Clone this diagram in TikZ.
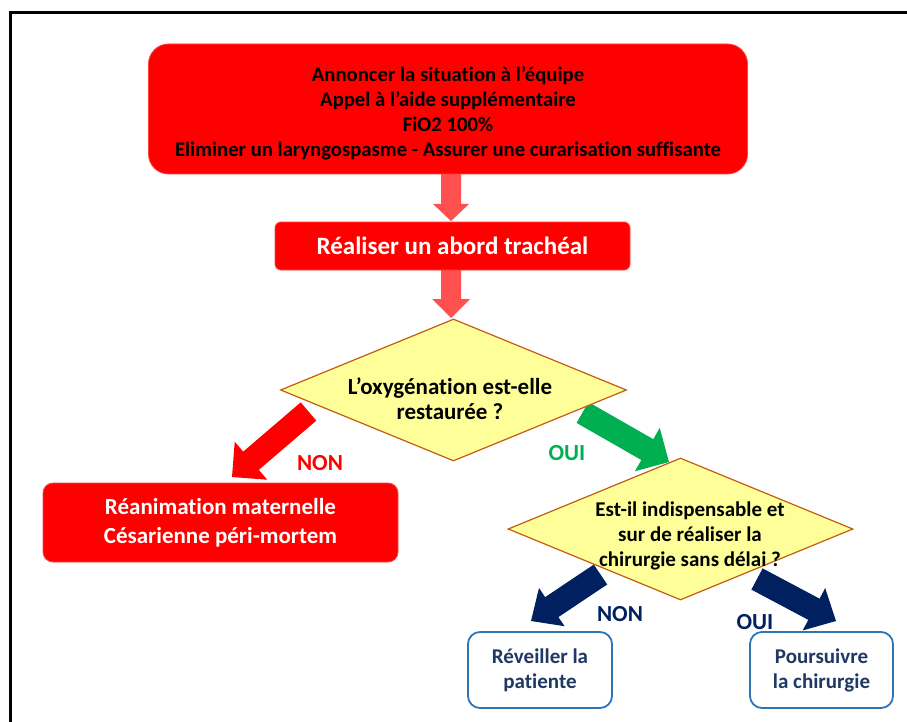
\documentclass[tikz,border=0pt]{standalone}
\usepackage{fontspec}
\setmainfont{Carlito}[Ligatures={NoCommon}]
\usetikzlibrary{calc,shapes.geometric,backgrounds}

\definecolor{alertred}{HTML}{FF0000}
\definecolor{flowred}{HTML}{FF5050}
\definecolor{qfill}{HTML}{FFFF99}
\definecolor{qborder}{HTML}{C55A11}
\definecolor{okgreen}{HTML}{00B050}
\definecolor{navy}{HTML}{002060}
\definecolor{boxblue}{HTML}{2E75B6}
\definecolor{boxtext}{HTML}{1F3864}

% block arrow: #1 colour, #2 start, #3 tip, #4 shaft half-width, #5 head half-width, #6 head length
\newcommand\blockarrow[6]{%
  \path (#2) coordinate (ba-s) (#3) coordinate (ba-t);
  \path ($(ba-t)!#6!(ba-s)$) coordinate (ba-h);
  \fill[#1] ($(ba-s)!#4!90:(ba-t)$) -- ($(ba-h)!#4!90:(ba-t)$)
    -- ($(ba-h)!#5!90:(ba-t)$) -- (ba-t) -- ($(ba-h)!#5!-90:(ba-t)$)
    -- ($(ba-h)!#4!-90:(ba-t)$) -- ($(ba-s)!#4!-90:(ba-t)$) -- cycle;
}

\tikzset{
  redbox/.style={fill=alertred, draw=alertred!75!white, line width=0.8pt,
    align=center, inner sep=0pt},
  decision/.style={diamond, fill=qfill, draw=qborder, line width=1.2pt,
    inner sep=0pt},
  qtext/.style={align=center, font=\bfseries\fontsize{23}{25}\selectfont},
  endbox/.style={fill=white, draw=boxblue, line width=1.8pt, rounded corners=12pt,
    align=center, text=boxtext, minimum width=144pt, minimum height=76pt,
    font=\bfseries\fontsize{21}{25}\selectfont},
  answer/.style={font=\bfseries\fontsize{23}{25}\selectfont},
}

\begin{document}
\begin{tikzpicture}[x=1pt,y=-1pt]
\useasboundingbox (0,0) rectangle (907,722);

% page frame
\draw[line width=3pt] (10,722) -- (10,13) -- (907,13);

% first actions
\node[redbox, rounded corners=20pt, minimum width=599pt, minimum height=130pt] (act) at (448,109) {};
\node[align=center, font=\bfseries\fontsize{20.7}{25}\selectfont] (act-t) at (448,113)
  {Annoncer la situation à l’équipe\\Appel à l’aide supplémentaire\\FiO2 100\%\\Eliminer un laryngospasme - Assurer une curarisation suffisante};

\node[redbox, rounded corners=6pt, minimum width=355pt, minimum height=48pt,
  text=white, font=\bfseries\fontsize{25}{30}\selectfont] (trach) at (452.5,246)
  {Réaliser un abord trachéal};

% first question
\node[decision, minimum width=346pt, minimum height=142pt] (q1) at (453.5,390) {};
\node[qtext] (q1t) at (450,399) {L’oxygénation est-elle\\restaurée ?};

\node[redbox, rounded corners=10pt, minimum width=355pt, minimum height=79pt,
  text=white, font=\bfseries\fontsize{23}{29}\selectfont] (reanim) at (220.5,522.5)
  {Réanimation maternelle\\Césarienne péri-mortem};

% second question
\node[decision, minimum width=345pt, minimum height=142pt] (q2) at (680.5,529) {};
\node[qtext, font=\bfseries\fontsize{21}{25}\selectfont] (q2t) at (690,536)
  {Est-il indispensable et\\sur de réaliser la\\chirurgie sans délai ?};

\node[endbox] (wake) at (540,670) {Réveiller la\\patiente};
\node[endbox, minimum width=143pt] (cont) at (821.5,670) {Poursuivre\\la chirurgie};

% answer labels
\node[answer, text=alertred] (l-non1) at (320,463) {NON};
\node[answer, text=okgreen] (l-oui1) at (567,453) {OUI};
\node[answer, text=navy] (l-non2) at (620,614) {NON};
\node[answer, text=navy] (l-oui2) at (755,622) {OUI};

% arrow end points
\coordinate (act-out) at (451,174);
\coordinate (trach-in) at (451,221);
\coordinate (trach-out) at (451,270);
\coordinate (q1-in) at (451,318);
\coordinate (q1-non) at (308.5,411.5);
\coordinate (reanim-in) at (232,477);
\coordinate (q1-oui) at (582.5,412.5);
\coordinate (q2-in) at (669,462);
\coordinate (q2-non) at (600.5,574.5);
\coordinate (wake-in) at (531,621);
\coordinate (q2-oui) at (757,579);
\coordinate (cont-in) at (836,621);

\begin{scope}[on background layer]
  \blockarrow{flowred}{act-out}{trach-in}{10pt}{18pt}{17pt}
  \blockarrow{flowred}{trach-out}{q1-in}{10pt}{19pt}{19pt}
  \blockarrow{alertred}{q1-non}{reanim-in}{12pt}{25pt}{25pt}
  \blockarrow{okgreen}{q1-oui}{q2-in}{12pt}{25pt}{25pt}
  \blockarrow{navy}{q2-non}{wake-in}{12pt}{23pt}{25pt}
  \blockarrow{navy}{q2-oui}{cont-in}{12pt}{24pt}{25pt}
\end{scope}
\end{tikzpicture}
\end{document}
